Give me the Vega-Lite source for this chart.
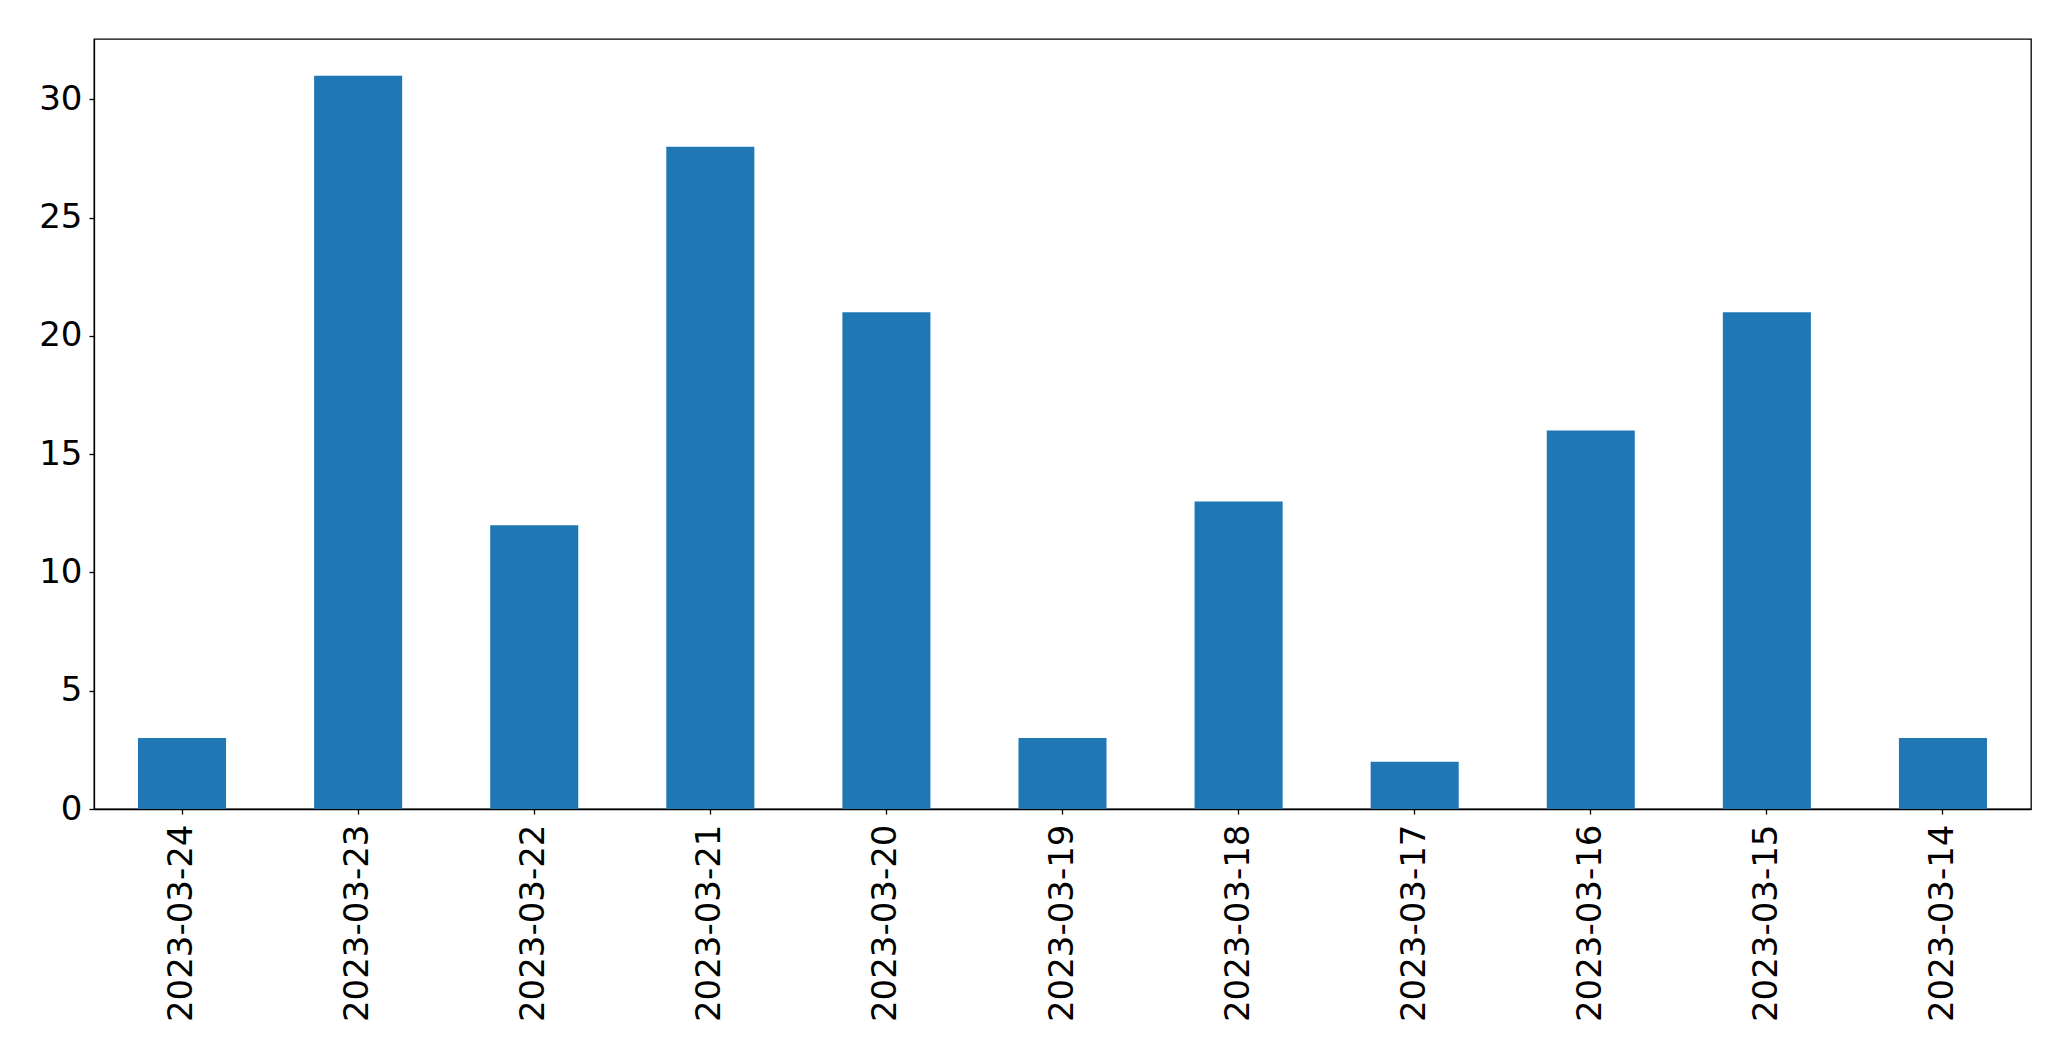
{
  "$schema": "https://vega.github.io/schema/vega-lite/v6.json",
  "autosize": {"type": "none"},
  "padding": {"left": 94, "top": 39, "right": 40, "bottom": 252},
  "width": 1937,
  "height": 770,
  "background": "white",
  "config": {
    "font": "DejaVu Sans",
    "view": {"stroke": "black", "strokeWidth": 1.3},
    "axis": {"grid": false, "domainColor": "black", "tickColor": "black", "labelColor": "black", "labelFont": "DejaVu Sans", "tickSize": 5, "domainWidth": 1.3, "tickWidth": 1.3, "labelLimit": 0}
  },
  "data": {"values": [
    {"date": "2023-03-24", "count": 3},
    {"date": "2023-03-23", "count": 31},
    {"date": "2023-03-22", "count": 12},
    {"date": "2023-03-21", "count": 28},
    {"date": "2023-03-20", "count": 21},
    {"date": "2023-03-19", "count": 3},
    {"date": "2023-03-18", "count": 13},
    {"date": "2023-03-17", "count": 2},
    {"date": "2023-03-16", "count": 16},
    {"date": "2023-03-15", "count": 21},
    {"date": "2023-03-14", "count": 3}
  ]},
  "mark": {"type": "bar", "color": "#1f77b4"},
  "encoding": {
    "x": {"field": "date", "type": "nominal", "sort": null, "title": null,
      "scale": {"paddingInner": 0.5, "paddingOuter": 0.25},
      "axis": {"labelAngle": -90, "labelPadding": 10, "labelFontSize": 34, "labelLimit": 0}},
    "y": {"field": "count", "type": "quantitative", "title": null,
      "scale": {"domain": [0, 32.55], "nice": false, "zero": true},
      "axis": {"values": [0, 5, 10, 15, 20, 25, 30], "labelPadding": 7, "labelFontSize": 34}}
  }
}
